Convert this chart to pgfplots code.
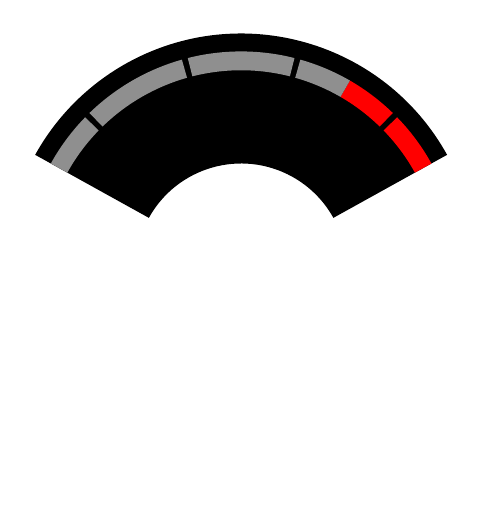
\documentclass[border=0pt]{standalone}
\usepackage{pgfplots}
\pgfplotsset{compat=1.18}
\definecolor{bandgray}{HTML}{8F8F8F}
\begin{document}
\begin{tikzpicture}
\begin{axis}[x=0.75pt,y=0.75pt,xmin=-256,xmax=256,ymin=-258,ymax=254,hide axis,clip=false]
\path (axis cs:-256,-258) (axis cs:256,254);
% gauge body
\fill[black] (axis cs:{250*cos(29)},{250*sin(29)}) arc[start angle=29,end angle=151,radius=187.5pt]
  -- (axis cs:{112*cos(151)},{112*sin(151)}) arc[start angle=151,end angle=29,radius=84pt] -- cycle;
% band segments: start angle, end angle, colour
\foreach \a/\b/\c in {29/44.2/red,45.8/60/red,60/74.2/bandgray,75.8/104.2/bandgray,105.8/134.2/bandgray,135.8/151/bandgray}{
  \edef\tmp{\noexpand\fill[\c] (axis cs:{231*cos(\a)},{231*sin(\a)}) arc[start angle=\a,end angle=\b,radius=173.25pt]
    -- (axis cs:{211*cos(\b)},{211*sin(\b)}) arc[start angle=\b,end angle=\a,radius=158.25pt] -- cycle;}
  \tmp
}
\end{axis}
\end{tikzpicture}
\end{document}
